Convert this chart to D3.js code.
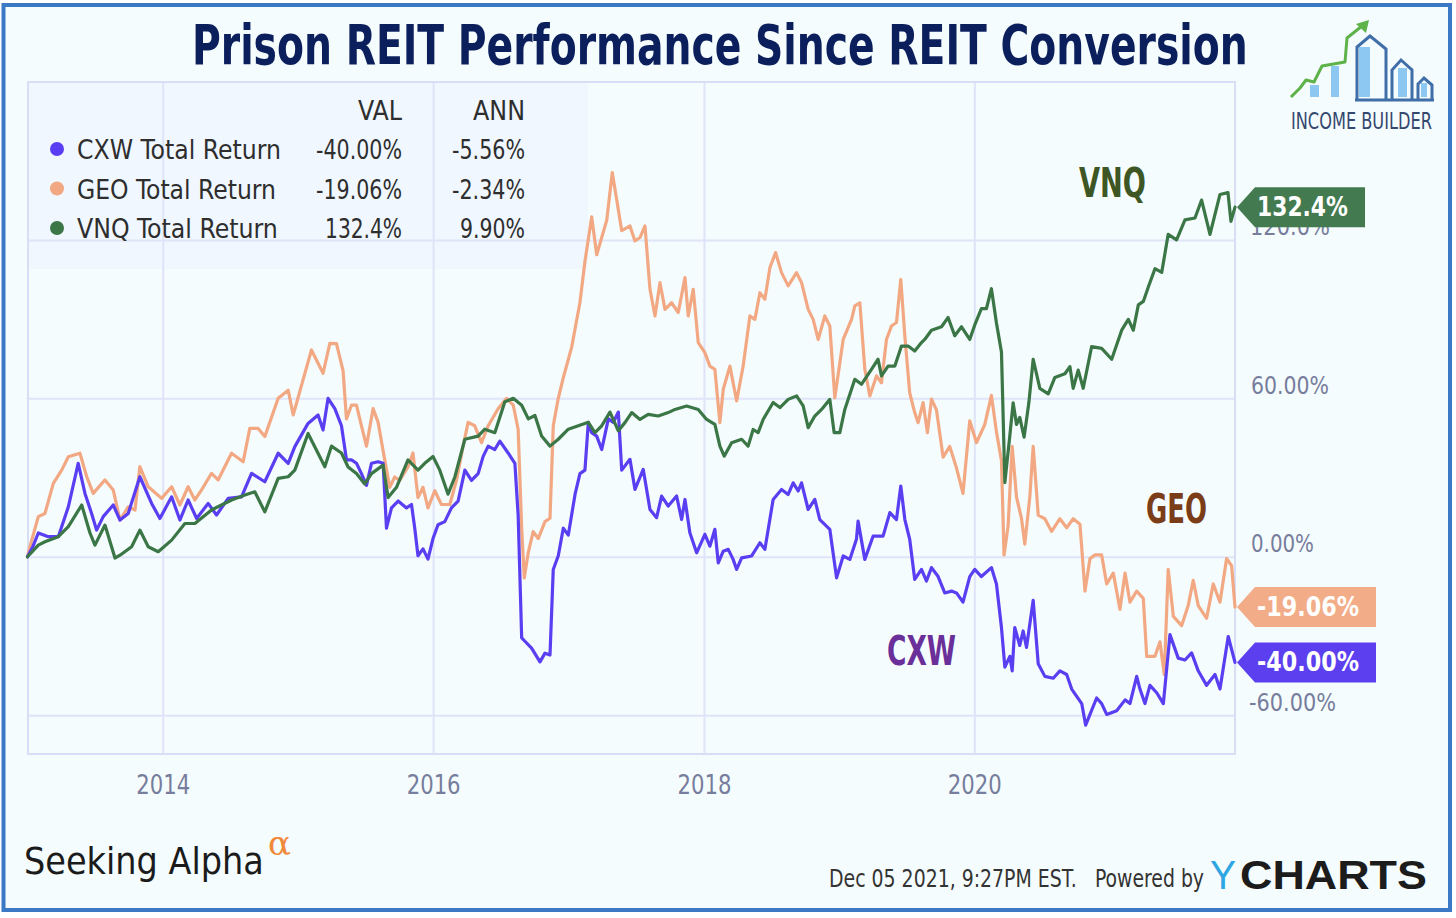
<!DOCTYPE html>
<html><head><meta charset="utf-8">
<script src="https://cdn.jsdelivr.net/npm/d3@7"></script>
<style>html,body{margin:0;padding:0;background:#fff;} svg{display:block;}</style>
</head><body>
<svg id="chart" width="1456" height="918"></svg>
<script>
// ---------------- data (decimal year, total return %) ----------------
const titleText = "Prison REIT Performance Since REIT Conversion";
const seriesNames = ["CXW Total Return", "GEO Total Return", "VNQ Total Return"];
const seriesShort = ["CXW", "GEO", "VNQ"];
const legendVal = ["-40.00%", "-19.06%", "132.4%"];
const legendAnn = ["-5.56%", "-2.34%", "9.90%"];
const badgeLabels = ["-40.00%", "-19.06%", "132.4%"];
const yTickValues = [120, 60, 0, -60];
const yTickLabels = ["120.0%", "60.00%", "0.00%", "-60.00%"];
const xTickYears = [2014, 2016, 2018, 2020];
const xStart = 2013.0, xEnd = 2021.925;

const cxw = [[2013.000,0],[2013.041,4],[2013.080,9],[2013.154,7.6],[2013.228,7.6],[2013.302,18.9],[2013.375,35.4],[2013.425,24],[2013.474,16.4],[2013.511,10.1],[2013.560,15.2],[2013.634,19.6],[2013.684,13.9],[2013.745,16.4],[2013.831,30.3],[2013.918,20.2],[2013.979,14.5],[2014.066,22.7],[2014.127,13.9],[2014.188,21.5],[2014.251,14.5],[2014.336,20.2],[2014.398,15.8],[2014.484,22.1],[2014.583,22.7],[2014.657,31.6],[2014.755,28.4],[2014.854,39.2],[2014.928,35.4],[2014.977,41.7],[2015.075,50.5],[2015.149,53.7],[2015.186,48],[2015.223,60],[2015.273,56.1],[2015.322,49.6],[2015.359,36.7],[2015.396,36.7],[2015.433,35.4],[2015.470,31.5],[2015.507,27],[2015.544,35.4],[2015.593,36],[2015.630,35.4],[2015.655,10.8],[2015.692,18.5],[2015.741,21.1],[2015.803,18.5],[2015.840,19.8],[2015.864,10.8],[2015.888,0.4],[2015.925,3],[2015.962,-0.9],[2015.999,6.9],[2016.036,12.1],[2016.086,13.3],[2016.135,18.5],[2016.184,21.1],[2016.234,32.8],[2016.283,28.9],[2016.332,31.5],[2016.369,38],[2016.406,41.9],[2016.455,40.6],[2016.492,43.8],[2016.553,39.3],[2016.603,35.4],[2016.627,15.9],[2016.653,-30.7],[2016.677,-32],[2016.726,-34.6],[2016.788,-39.8],[2016.825,-36.5],[2016.862,-37.2],[2016.886,-4.8],[2016.923,0.4],[2016.960,10.8],[2016.997,8.2],[2017.047,23.7],[2017.083,31.5],[2017.120,32.8],[2017.145,50.9],[2017.170,47],[2017.207,45.7],[2017.244,40.6],[2017.293,52.2],[2017.330,50.9],[2017.367,54.8],[2017.392,32.8],[2017.453,36.9],[2017.490,25.5],[2017.551,33.1],[2017.601,17.9],[2017.650,14.8],[2017.687,23],[2017.736,19.2],[2017.798,23],[2017.835,14.1],[2017.860,21.7],[2017.896,9.1],[2017.946,1.5],[2018.007,8.5],[2018.044,4],[2018.081,10.4],[2018.106,-2.3],[2018.143,2.1],[2018.180,2.8],[2018.216,-1],[2018.242,-4.8],[2018.279,-0.4],[2018.353,0.3],[2018.414,5.3],[2018.451,2.8],[2018.512,21.7],[2018.574,25.5],[2018.623,23.6],[2018.660,28],[2018.697,24.9],[2018.722,28],[2018.771,17.9],[2018.820,21.7],[2018.857,14.1],[2018.931,10.4],[2018.981,-8],[2019.030,0.3],[2019.079,-1],[2019.128,6.6],[2019.140,13.5],[2019.190,-1],[2019.251,7.8],[2019.325,7.8],[2019.375,16.7],[2019.424,14.1],[2019.456,26.8],[2019.486,14.1],[2019.522,6.6],[2019.559,-8.6],[2019.609,-4.8],[2019.646,-9.2],[2019.683,-4.1],[2019.732,-7.5],[2019.781,-13.7],[2019.831,-13],[2019.868,-13.7],[2019.916,-17.2],[2019.966,-7.5],[2020.003,-4.8],[2020.052,-7.5],[2020.126,-4.1],[2020.163,-10.3],[2020.200,-26.8],[2020.225,-41.8],[2020.262,-37.7],[2020.279,-43.2],[2020.298,-26.8],[2020.335,-33.6],[2020.360,-28.1],[2020.385,-34.3],[2020.434,-16.5],[2020.471,-40.5],[2020.520,-45.3],[2020.582,-46],[2020.631,-43.2],[2020.681,-44.6],[2020.718,-50.1],[2020.792,-55.6],[2020.821,-63.8],[2020.853,-59.7],[2020.902,-53.5],[2020.939,-55.6],[2020.976,-59.7],[2021.050,-58.3],[2021.112,-54.2],[2021.148,-55.6],[2021.198,-45.3],[2021.222,-50.1],[2021.259,-55.6],[2021.296,-48.7],[2021.346,-51.5],[2021.395,-55.6],[2021.444,-29.5],[2021.505,-38.4],[2021.555,-39.1],[2021.604,-36.4],[2021.653,-43.2],[2021.715,-48.7],[2021.777,-44.6],[2021.814,-50.1],[2021.875,-30.2],[2021.925,-40]];

const geo = [[2013.000,0],[2013.018,3.8],[2013.080,15.2],[2013.129,16.4],[2013.191,27.8],[2013.253,32.8],[2013.302,37.9],[2013.388,39.2],[2013.438,30.3],[2013.486,24],[2013.573,29.1],[2013.634,25.3],[2013.684,13.9],[2013.745,18.9],[2013.795,17.7],[2013.831,34.1],[2013.893,26.5],[2013.992,22.1],[2014.066,26.5],[2014.127,19.6],[2014.188,26.5],[2014.238,21.5],[2014.287,25.3],[2014.361,31.6],[2014.410,29.1],[2014.509,39.2],[2014.595,36],[2014.644,48.6],[2014.706,48.6],[2014.755,45.5],[2014.854,60],[2014.928,63.1],[2014.965,53.7],[2015.027,65],[2015.100,78.3],[2015.149,73.3],[2015.186,69.5],[2015.236,80.8],[2015.285,80.7],[2015.334,70.4],[2015.359,52.2],[2015.396,57.4],[2015.433,57.4],[2015.470,49.6],[2015.507,41.9],[2015.556,56.1],[2015.593,50.9],[2015.642,36.7],[2015.679,26.3],[2015.716,30.2],[2015.753,28.9],[2015.814,34],[2015.851,39.3],[2015.888,22.4],[2015.925,26.3],[2015.962,18.5],[2016.012,25],[2016.061,19.8],[2016.123,19.8],[2016.172,28.9],[2016.221,41.9],[2016.258,50.9],[2016.307,49.6],[2016.357,43.2],[2016.406,49.6],[2016.480,56.1],[2016.542,60],[2016.591,57.4],[2016.627,48.3],[2016.653,10.8],[2016.672,-8],[2016.702,1.7],[2016.738,9.5],[2016.775,6.9],[2016.825,13.3],[2016.862,14.6],[2016.886,49.6],[2016.923,60],[2016.960,67.8],[2017.022,79.4],[2017.083,96.3],[2017.120,111.8],[2017.170,128.7],[2017.207,114.4],[2017.244,120.9],[2017.281,127.4],[2017.322,145.5],[2017.355,135.2],[2017.392,123.5],[2017.453,125.3],[2017.490,119.6],[2017.527,120.9],[2017.564,125.3],[2017.601,101.3],[2017.638,91.2],[2017.675,103.8],[2017.712,93.7],[2017.761,96.2],[2017.810,92.5],[2017.860,105.7],[2017.884,91.2],[2017.921,101.3],[2017.958,81.1],[2018.007,77.3],[2018.044,72.2],[2018.081,71],[2018.118,50.8],[2018.143,63.4],[2018.192,72.2],[2018.242,59],[2018.290,72.2],[2018.340,91.2],[2018.377,89.9],[2018.414,100],[2018.451,97.5],[2018.488,109.5],[2018.530,115.2],[2018.574,107.6],[2018.623,102.6],[2018.685,107.6],[2018.722,103.8],[2018.771,93.7],[2018.808,89.9],[2018.845,82.3],[2018.894,91.2],[2018.931,87.4],[2018.968,60.2],[2019.030,82.3],[2019.092,89.9],[2019.116,95],[2019.153,96.2],[2019.190,71],[2019.227,60.9],[2019.276,68.5],[2019.313,65.9],[2019.350,82.3],[2019.387,87.4],[2019.424,88.7],[2019.456,105],[2019.486,83.6],[2019.522,62.1],[2019.559,54.6],[2019.584,50.8],[2019.621,58.4],[2019.653,47],[2019.683,59.7],[2019.720,55.6],[2019.769,37.7],[2019.818,41.8],[2019.868,33.6],[2019.916,24],[2019.966,51.5],[2020.016,43.2],[2020.077,50.1],[2020.126,61.1],[2020.163,47.3],[2020.200,36.4],[2020.219,0.7],[2020.249,11.7],[2020.279,41.8],[2020.311,22.6],[2020.348,14.4],[2020.372,4.8],[2020.409,22.6],[2020.434,41.8],[2020.471,15.8],[2020.520,14.4],[2020.570,9.6],[2020.631,14.4],[2020.681,11],[2020.729,14.4],[2020.779,12.3],[2020.816,-13],[2020.853,-0.7],[2020.890,0.7],[2020.939,0.7],[2020.976,-10.3],[2021.025,-6.2],[2021.074,-19.9],[2021.112,-6.2],[2021.148,-17.2],[2021.198,-13],[2021.247,-15.8],[2021.272,-37.7],[2021.333,-37.7],[2021.370,-32.2],[2021.402,-44.6],[2021.431,-4.8],[2021.469,-22.6],[2021.530,-26.1],[2021.579,-18.5],[2021.616,-8.9],[2021.653,-18.5],[2021.715,-23.3],[2021.764,-10.3],[2021.814,-17.2],[2021.863,-0.7],[2021.900,-3.4],[2021.925,-19.06]];

const vnq = [[2013.000,0],[2013.080,4.4],[2013.129,5.7],[2013.228,7.6],[2013.302,11.4],[2013.401,19.6],[2013.462,9],[2013.499,4.4],[2013.573,12],[2013.647,-0.5],[2013.684,0.6],[2013.770,3.8],[2013.831,10.1],[2013.893,3.8],[2013.967,1.9],[2014.066,6.3],[2014.164,12.6],[2014.238,12.6],[2014.361,17.7],[2014.509,21.5],[2014.608,23.4],[2014.681,24.6],[2014.755,17],[2014.854,29.7],[2014.928,30.3],[2014.977,32.8],[2015.075,46.7],[2015.199,34.1],[2015.248,41.9],[2015.322,39.3],[2015.371,34],[2015.433,31.5],[2015.494,27.6],[2015.544,31.5],[2015.630,34.7],[2015.667,22.4],[2015.729,26.3],[2015.814,36.7],[2015.888,32.8],[2015.938,35.4],[2015.999,38],[2016.049,32.8],[2016.110,23.7],[2016.160,30.2],[2016.234,44.5],[2016.332,45.7],[2016.381,48.3],[2016.455,47],[2016.529,58.7],[2016.591,60],[2016.653,57.4],[2016.702,52.2],[2016.751,53.5],[2016.800,45.7],[2016.862,41.9],[2016.923,44.5],[2016.997,48.3],[2017.071,49.6],[2017.145,50.9],[2017.194,47],[2017.244,49.6],[2017.305,54.8],[2017.367,47.7],[2017.416,50.8],[2017.466,54.6],[2017.527,52],[2017.588,53.9],[2017.662,53.3],[2017.736,54.6],[2017.786,55.8],[2017.872,57.1],[2017.958,55.8],[2018.020,52],[2018.081,50.1],[2018.118,41.9],[2018.150,38.1],[2018.205,43.2],[2018.279,44.5],[2018.327,41.9],[2018.364,48.2],[2018.401,47],[2018.438,52],[2018.512,58.4],[2018.562,56.5],[2018.623,59.6],[2018.685,60.9],[2018.734,57.1],[2018.771,48.9],[2018.820,53.3],[2018.870,55.8],[2018.931,59.6],[2018.963,47],[2019.005,47],[2019.042,55.8],[2019.116,67.2],[2019.165,65.3],[2019.239,71],[2019.288,74.8],[2019.313,68.5],[2019.362,72.2],[2019.412,72.2],[2019.461,79.8],[2019.510,79.8],[2019.559,77.9],[2019.609,81.1],[2019.633,82.3],[2019.683,85.8],[2019.757,87.1],[2019.806,90.6],[2019.855,83.7],[2019.905,87.1],[2019.966,82.3],[2020.003,87.8],[2020.052,94],[2020.089,94],[2020.126,101.5],[2020.163,88.5],[2020.200,77.5],[2020.225,28.1],[2020.262,46],[2020.286,58.3],[2020.311,50.1],[2020.335,52.8],[2020.367,45.3],[2020.402,58.3],[2020.434,74.8],[2020.483,63.8],[2020.545,61.7],[2020.594,67.9],[2020.668,69.3],[2020.705,72],[2020.729,63.8],[2020.766,70.7],[2020.803,63.8],[2020.865,79.6],[2020.939,78.9],[2021.013,74.8],[2021.087,85.8],[2021.136,89.9],[2021.173,85.8],[2021.210,95.4],[2021.247,96.7],[2021.284,102.2],[2021.333,109.1],[2021.383,107.7],[2021.431,122.1],[2021.493,120],[2021.555,127.6],[2021.629,128.3],[2021.678,135.1],[2021.740,122.1],[2021.814,137.2],[2021.873,137.9],[2021.895,127],[2021.925,132.4]];

const seriesData = [cxw, geo, vnq];
const lineColors = ["#5a3ef2", "#f2a882", "#3b7646"];
const badgeColors = ["#5c40ef", "#f2ad88", "#437a4f"];
const annotColors = ["#6a2f99", "#7b3d18", "#3d5624"];

// ---------------- helpers ----------------
const NARROW = "'Liberation Sans Narrow','Arial Narrow','DejaVu Sans Condensed','Liberation Sans',sans-serif";
function toDate(t) {
  const yr = Math.floor(t);
  const a = Date.UTC(yr, 0, 1), b = Date.UTC(yr + 1, 0, 1);
  return new Date(a + (t - yr) * (b - a));
}
// squeeze/stretch a text horizontally to a given width (keeps its height)
function fit(sel, w) {
  const node = sel.node();
  const L0 = node.getComputedTextLength();
  if (!L0) return sel;
  const sx = w / L0;
  const x0 = +sel.attr("x") || 0, y0 = +sel.attr("y") || 0;
  sel.attr("x", 0).attr("y", 0).attr("transform", `translate(${x0},${y0}) scale(${sx},1)`);
  return sel;
}

const svg = d3.select("#chart");
const L = 28, R = 1235, T = 82, B = 754;

const x = d3.scaleUtc().domain([toDate(xStart), toDate(xEnd)]).range([27.5, R]);
const y = d3.scaleLinear().domain([-74.7, 179.8]).range([B, T]);

// background + frame
svg.append("rect").attr("x", 0).attr("y", 0).attr("width", 1456).attr("height", 918).attr("fill", "#ffffff");
svg.append("rect").attr("x", 3.5).attr("y", 5).attr("width", 1446.5).attr("height", 905)
  .attr("fill", "#f5fcfd").attr("stroke", "#3b78c6").attr("stroke-width", 4);

// legend background
svg.append("rect").attr("x", L).attr("y", T).attr("width", 560).attr("height", 187)
  .attr("fill", "#eef6ff").attr("opacity", 0.75);

// x axis (vertical grid + year labels)
const xAxis = d3.axisBottom(x)
  .tickValues(xTickYears.map(toDate))
  .tickFormat(d3.utcFormat("%Y"))
  .tickSize(-(B - T));
const gx = svg.append("g").attr("transform", `translate(0,${B})`).call(xAxis);
gx.select(".domain").remove();
gx.selectAll(".tick line").attr("stroke", "#dfe4f8").attr("stroke-width", 2);
gx.selectAll(".tick text").attr("y", 40).attr("dy", null).attr("text-anchor", "middle")
  .attr("fill", "#777d9c").style("font-family", NARROW).style("font-size", "26px")
  .each(function(){ fit(d3.select(this), 54); });

// y axis (horizontal grid + right labels)
const yAxis = d3.axisRight(y)
  .tickValues(yTickValues)
  .tickFormat((d, i) => yTickLabels[i])
  .tickSize(-(R - L));
const gy = svg.append("g").attr("transform", `translate(${R},0)`).call(yAxis);
gy.select(".domain").remove();
gy.selectAll(".tick line").attr("stroke", "#dfe4f8").attr("stroke-width", 2);
const yLabW = {"120.0%": 80, "60.00%": 78, "0.00%": 63, "-60.00%": 87};
const yLabX = {"120.0%": 15, "60.00%": 16, "0.00%": 16, "-60.00%": 14};
gy.selectAll(".tick text").attr("dy", -5)
  .attr("fill", "#777d9c").style("font-family", NARROW).style("font-size", "25px")
  .each(function(d, i){
    const s = d3.select(this).attr("x", yLabX[yTickLabels[i]]);
    fit(s, yLabW[yTickLabels[i]]);
  });

// plot frame
svg.append("rect").attr("x", L).attr("y", T).attr("width", R - L).attr("height", B - T)
  .attr("fill", "none").attr("stroke", "#d8def6").attr("stroke-width", 2);

// legend
const lg = svg.append("g").style("font-family", NARROW).attr("fill", "#2e2e2e");
fit(lg.append("text").attr("x", 402).attr("y", 120).attr("text-anchor", "end").style("font-size", "27px").text("VAL"), 44);
fit(lg.append("text").attr("x", 525).attr("y", 120).attr("text-anchor", "end").style("font-size", "27px").text("ANN"), 52);
const nameW = [204, 199, 201];
const valW = [86, 86, 77];
const annW = [73, 73, 65];
seriesNames.forEach((n, i) => {
  const by = 159 + i * 39.5;
  lg.append("circle").attr("cx", 57).attr("cy", by - 10).attr("r", 7).attr("fill", lineColors[i]);
  fit(lg.append("text").attr("x", 77).attr("y", by).style("font-size", "27px").text(n), nameW[i]);
  fit(lg.append("text").attr("x", 402).attr("y", by).attr("text-anchor", "end").style("font-size", "27px").text(legendVal[i]), valW[i]);
  fit(lg.append("text").attr("x", 525).attr("y", by).attr("text-anchor", "end").style("font-size", "27px").text(legendAnn[i]), annW[i]);
});

// lines (GEO, CXW, VNQ order)
const line = d3.line().x(d => x(toDate(d[0]))).y(d => y(d[1])).curve(d3.curveLinear);
[1, 0, 2].forEach(i => {
  svg.append("path").datum(seriesData[i]).attr("d", line)
    .attr("fill", "none").attr("stroke", lineColors[i]).attr("stroke-width", 3.2)
    .attr("stroke-linejoin", "round").attr("stroke-linecap", "round");
});

// end badges
const badgeTextW = [102, 102, 91];
seriesData.forEach((s, i) => {
  const cy = y(s[s.length - 1][1]);
  const tx = 1257, tw = badgeTextW[i];
  const right = tx + tw + 17;
  svg.append("path")
    .attr("d", `M1237,${cy} L1255,${cy - 20} L${right},${cy - 20} L${right},${cy + 20} L1255,${cy + 20} Z`)
    .attr("fill", badgeColors[i]);
  fit(svg.append("text").attr("x", tx).attr("y", cy + 9).attr("fill", "#ffffff")
    .style("font-family", NARROW).style("font-size", "26px").style("font-weight", "700")
    .text(badgeLabels[i]), tw);
});

// series annotations
const annPos = [[887, 665, 69], [1146, 523, 61], [1079, 197, 67]];
seriesShort.forEach((s, i) => {
  fit(svg.append("text").attr("x", annPos[i][0]).attr("y", annPos[i][1])
    .attr("fill", annotColors[i]).style("font-family", NARROW)
    .style("font-size", "40px").style("font-weight", "700").text(s), annPos[i][2]);
});

// title
fit(svg.append("text").attr("x", 192).attr("y", 64).attr("fill", "#0b1f5c")
  .style("font-family", NARROW).style("font-size", "56px").style("font-weight", "700")
  .text(titleText), 1056);

// Income Builder logo
const logo = svg.append("g");
[[1310, 85, 9, 12], [1331, 66, 8, 31], [1359, 47, 11, 50], [1398, 68, 9, 29], [1421, 83, 6, 14]].forEach(r => {
  logo.append("rect").attr("x", r[0]).attr("y", r[1]).attr("width", r[2]).attr("height", r[3]).attr("fill", "#8cc8f2");
});
logo.append("path").attr("d", "M1357,100 V47 L1370,36 L1386,49 V100 M1392,100 V70 L1401,60 L1412,70 V100 M1418,100 V84 L1424,78 L1432,85 V100 M1355,100 H1434")
  .attr("fill", "none").attr("stroke", "#3f6ea8").attr("stroke-width", 3).attr("stroke-linejoin", "miter");
logo.append("path").attr("d", "M1291,97 L1300,88 L1306,80 L1314,82 L1322,66 L1345,62 L1347,38 L1362,26")
  .attr("fill", "none").attr("stroke", "#5db24a").attr("stroke-width", 3).attr("stroke-linejoin", "round");
logo.append("path").attr("d", "M1356,24 L1369,20 L1366,33 Z").attr("fill", "#5db24a");
fit(logo.append("text").attr("x", 1291).attr("y", 129).attr("fill", "#34476f")
  .style("font-family", NARROW).style("font-size", "23px").style("font-weight", "400").text("INCOME BUILDER"), 141);

// footer: Seeking Alpha
fit(svg.append("text").attr("x", 24).attr("y", 874).attr("fill", "#1b1b1b")
  .style("font-family", "'DejaVu Sans','Liberation Sans',sans-serif").style("font-size", "38px")
  .text("Seeking Alpha"), 240);
svg.append("text").attr("x", 268).attr("y", 855).attr("fill", "#f0883a")
  .style("font-family", "'DejaVu Serif','Liberation Serif',serif").style("font-size", "34px").text("α");

// footer: date + ycharts
fit(svg.append("text").attr("x", 829).attr("y", 887).attr("fill", "#333333")
  .style("font-family", NARROW).style("font-size", "25px").text("Dec 05 2021, 9:27PM EST."), 248);
fit(svg.append("text").attr("x", 1095).attr("y", 887).attr("fill", "#333333")
  .style("font-family", NARROW).style("font-size", "25px").text("Powered by"), 109);
fit(svg.append("text").attr("x", 1210).attr("y", 889).attr("fill", "#2fa6e4")
  .style("font-family", "'Liberation Sans',sans-serif").style("font-size", "40px").style("font-weight", "400").text("Y"), 26);
fit(svg.append("text").attr("x", 1240).attr("y", 889).attr("fill", "#1c1c1c")
  .style("font-family", "'Liberation Sans',sans-serif").style("font-size", "40px").style("font-weight", "700").text("CHARTS"), 187);
</script>
</body></html>
